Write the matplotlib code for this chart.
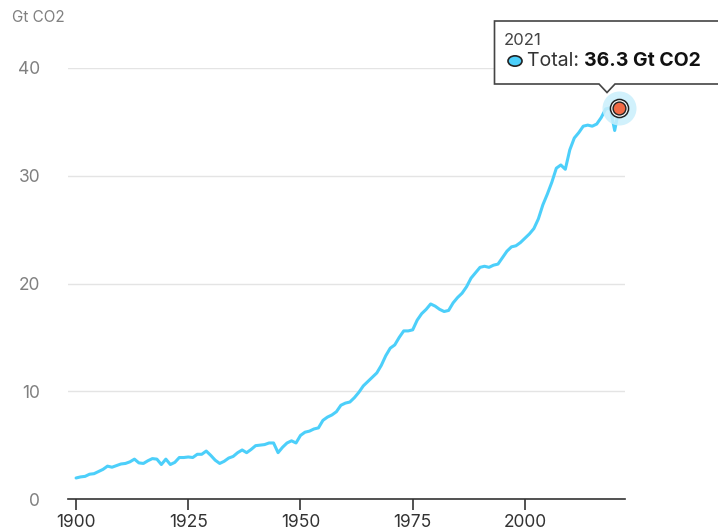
import matplotlib.pyplot as plt
import numpy as np
from matplotlib.patches import Polygon, Circle

plt.rcParams['font.family'] = ['Inter', 'DejaVu Sans']

# global CO2 emissions, Gt CO2
years = np.arange(1900, 2022)
emissions = [
    1.95, 2.05, 2.10, 2.30, 2.35, 2.55, 2.75, 3.05, 2.95, 3.10,   # 1900s
    3.25, 3.30, 3.45, 3.70, 3.35, 3.30, 3.55, 3.75, 3.70, 3.20,   # 1910s
    3.70, 3.20, 3.40, 3.85, 3.85, 3.90, 3.85, 4.15, 4.15, 4.45,   # 1920s
    4.05, 3.60, 3.30, 3.50, 3.80, 3.95, 4.30, 4.55, 4.30, 4.60,   # 1930s
    4.95, 5.00, 5.05, 5.20, 5.20, 4.30, 4.80, 5.20, 5.40, 5.20,   # 1940s
    5.90, 6.20, 6.30, 6.50, 6.60, 7.30, 7.60, 7.80, 8.10, 8.70,   # 1950s
    8.90, 9.00, 9.40, 9.90, 10.5, 10.9, 11.3, 11.7, 12.4, 13.3,   # 1960s
    14.0, 14.3, 15.0, 15.6, 15.6, 15.7, 16.6, 17.2, 17.6, 18.1,   # 1970s
    17.9, 17.6, 17.4, 17.5, 18.2, 18.7, 19.1, 19.7, 20.5, 21.0,   # 1980s
    21.5, 21.6, 21.5, 21.7, 21.8, 22.4, 23.0, 23.4, 23.5, 23.8,   # 1990s
    24.2, 24.6, 25.1, 26.0, 27.3, 28.3, 29.4, 30.7, 31.0, 30.6,   # 2000s
    32.4, 33.5, 34.0, 34.6, 34.7, 34.6, 34.8, 35.4, 36.2, 36.3,   # 2010s
    34.2, 36.3,                                                   # 2020s
]
hl_year = 2021
hl_value = 36.3
xticks = [1900, 1925, 1950, 1975, 2000]
yticks = [0, 10, 20, 30, 40]

W, H = 718, 529
fig = plt.figure(figsize=(W / 100, H / 100), dpi=100)
# axes box in pixels: left 68, right 625, bottom 499, top 68
ax = fig.add_axes([68 / W, 1 - 499 / H, (625 - 68) / W, (499 - 68) / H])

line_col = '#4CCFFA'
ax.plot(years, emissions, color=line_col, lw=2.2, solid_joinstyle='round',
        solid_capstyle='round', zorder=3)

ax.set_xlim(1898.2, 2022.3)
ax.set_ylim(0, 40)

ax.set_xticks(xticks)
ax.set_yticks(yticks)
ax.tick_params(axis='x', direction='out', length=8, width=1.2, color='#333333',
               labelsize=12.5, labelcolor='#333333', pad=3)
ax.tick_params(axis='y', length=0, labelsize=12.5, labelcolor='#808080', pad=20)
for s in ['top', 'right', 'left']:
    ax.spines[s].set_visible(False)
ax.spines['bottom'].set_color('#333333')
ax.spines['bottom'].set_linewidth(1.2)
for yv in yticks[1:]:
    ax.axhline(yv, color='#E4E4E4', lw=1.0, zorder=1)

fig.text(12 / W, 1 - 17 / H, 'Gt CO2', fontsize=11, color='#808080', va='center', ha='left')

# highlight marker
ax.scatter([hl_year], [hl_value], s=600, color='#C9EFFC', alpha=0.85, zorder=4, lw=0, clip_on=False)
ax.scatter([hl_year], [hl_value], s=170, facecolor='white', edgecolor='#222222', lw=1.1,
           zorder=5, clip_on=False)
ax.scatter([hl_year], [hl_value], s=85, facecolor='#F26A45', edgecolor='#222222', lw=1.0,
           zorder=6, clip_on=False)

# tooltip (figure pixel coords)
def px(x, y):
    return (x / W, 1 - y / H)

pts = [px(494.5, 21), px(730, 21), px(730, 84), px(615, 84), px(607, 92.5),
       px(599, 84), px(494.5, 84)]
tip = Polygon(pts, closed=True, transform=fig.transFigure, facecolor='white',
              edgecolor='#444444', lw=1.2, clip_on=False, zorder=10)
fig.patches.append(tip)

fig.text(*px(504, 40), '2021', fontsize=12, color='#444444', va='center', ha='left', zorder=11)
dot = Circle(px(515, 61), radius=7 / W, transform=fig.transFigure, facecolor=line_col,
             edgecolor='#222222', lw=1.2, zorder=11)
fig.patches.append(dot)
t1 = fig.text(*px(527, 61), 'Total: ', fontsize=14, color='#333333', va='center', ha='left', zorder=11)
fig.canvas.draw()
bb = t1.get_window_extent(renderer=fig.canvas.get_renderer())
fig.text(bb.x1 / W, 1 - 61 / H, '36.3 Gt CO2', fontsize=14, fontweight='bold',
         color='#111111', va='center', ha='left', zorder=11)

fig.savefig('out.png', dpi=100)
